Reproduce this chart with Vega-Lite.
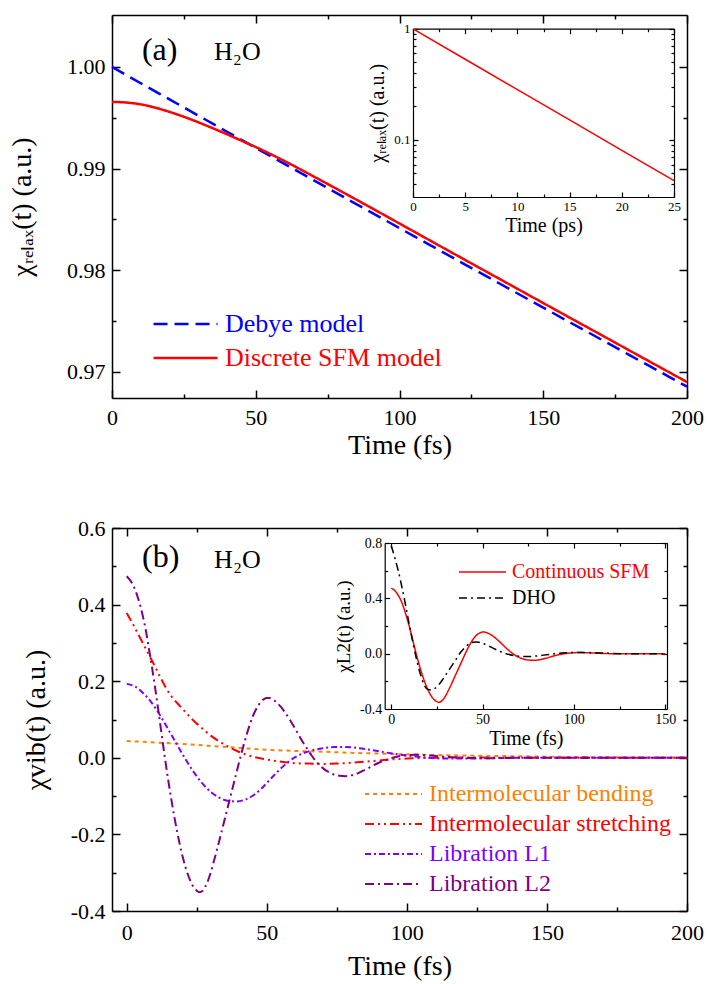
{
  "$schema": "https://vega.github.io/schema/vega-lite/v6.json",
  "background": "white",
  "padding": {"left": 8, "top": 14, "right": 2, "bottom": 2},
  "spacing": 58,
  "config": {
    "font": "Liberation Serif",
    "view": {"stroke": null},
    "axis": {"labelFont": "Liberation Serif", "titleFont": "Liberation Serif", "titleFontWeight": "normal", "domainColor": "#000", "tickColor": "#000", "labelColor": "#000", "titleColor": "#000", "grid": false, "labelOverlap": false, "labelFlush": false, "domainWidth": 1.5, "tickWidth": 1.5},
    "legend": {"labelFont": "Liberation Serif", "padding": 0, "labelLimit": 500},
    "text": {"font": "Liberation Serif", "color": "#000"}
  },
  "datasets": {
    "relax": [
      {"t": 0, "v": 1.0, "model": "Debye model"},
      {"t": 10, "v": 0.9984, "model": "Debye model"},
      {"t": 20, "v": 0.99681, "model": "Debye model"},
      {"t": 30, "v": 0.99522, "model": "Debye model"},
      {"t": 40, "v": 0.99363, "model": "Debye model"},
      {"t": 50, "v": 0.99204, "model": "Debye model"},
      {"t": 60, "v": 0.99046, "model": "Debye model"},
      {"t": 70, "v": 0.98888, "model": "Debye model"},
      {"t": 80, "v": 0.9873, "model": "Debye model"},
      {"t": 90, "v": 0.98572, "model": "Debye model"},
      {"t": 100, "v": 0.98415, "model": "Debye model"},
      {"t": 110, "v": 0.98258, "model": "Debye model"},
      {"t": 120, "v": 0.98101, "model": "Debye model"},
      {"t": 130, "v": 0.97945, "model": "Debye model"},
      {"t": 140, "v": 0.97789, "model": "Debye model"},
      {"t": 150, "v": 0.97633, "model": "Debye model"},
      {"t": 160, "v": 0.97477, "model": "Debye model"},
      {"t": 170, "v": 0.97322, "model": "Debye model"},
      {"t": 180, "v": 0.97166, "model": "Debye model"},
      {"t": 190, "v": 0.97011, "model": "Debye model"},
      {"t": 200, "v": 0.96856, "model": "Debye model"},
      {"t": 0, "v": 0.99656, "model": "Discrete SFM model"},
      {"t": 5, "v": 0.9965, "model": "Discrete SFM model"},
      {"t": 10, "v": 0.99632, "model": "Discrete SFM model"},
      {"t": 15, "v": 0.996, "model": "Discrete SFM model"},
      {"t": 20, "v": 0.99558, "model": "Discrete SFM model"},
      {"t": 25, "v": 0.9951, "model": "Discrete SFM model"},
      {"t": 30, "v": 0.99456, "model": "Discrete SFM model"},
      {"t": 35, "v": 0.99398, "model": "Discrete SFM model"},
      {"t": 40, "v": 0.99338, "model": "Discrete SFM model"},
      {"t": 45, "v": 0.99275, "model": "Discrete SFM model"},
      {"t": 50, "v": 0.99212, "model": "Discrete SFM model"},
      {"t": 60, "v": 0.99075, "model": "Discrete SFM model"},
      {"t": 70, "v": 0.98925, "model": "Discrete SFM model"},
      {"t": 80, "v": 0.98772, "model": "Discrete SFM model"},
      {"t": 90, "v": 0.98617, "model": "Discrete SFM model"},
      {"t": 100, "v": 0.9846, "model": "Discrete SFM model"},
      {"t": 110, "v": 0.98303, "model": "Discrete SFM model"},
      {"t": 120, "v": 0.98146, "model": "Discrete SFM model"},
      {"t": 130, "v": 0.9799, "model": "Discrete SFM model"},
      {"t": 140, "v": 0.97834, "model": "Discrete SFM model"},
      {"t": 150, "v": 0.97678, "model": "Discrete SFM model"},
      {"t": 160, "v": 0.97522, "model": "Discrete SFM model"},
      {"t": 170, "v": 0.97367, "model": "Discrete SFM model"},
      {"t": 180, "v": 0.97211, "model": "Discrete SFM model"},
      {"t": 190, "v": 0.97056, "model": "Discrete SFM model"},
      {"t": 200, "v": 0.96901, "model": "Discrete SFM model"}
    ],
    "relaxps": [
      {"t": 0, "v": 0.9966},
      {"t": 5, "v": 0.5316},
      {"t": 10, "v": 0.2836},
      {"t": 15, "v": 0.1513},
      {"t": 20, "v": 0.0807},
      {"t": 25, "v": 0.043}
    ],
    "vib": [
      {"t": 0, "v": 0.044, "mode": "Intermolecular bending"},
      {"t": 10, "v": 0.04, "mode": "Intermolecular bending"},
      {"t": 20, "v": 0.036, "mode": "Intermolecular bending"},
      {"t": 30, "v": 0.031, "mode": "Intermolecular bending"},
      {"t": 40, "v": 0.026, "mode": "Intermolecular bending"},
      {"t": 50, "v": 0.021, "mode": "Intermolecular bending"},
      {"t": 60, "v": 0.018, "mode": "Intermolecular bending"},
      {"t": 70, "v": 0.016, "mode": "Intermolecular bending"},
      {"t": 80, "v": 0.013, "mode": "Intermolecular bending"},
      {"t": 90, "v": 0.011, "mode": "Intermolecular bending"},
      {"t": 100, "v": 0.009, "mode": "Intermolecular bending"},
      {"t": 120, "v": 0.006, "mode": "Intermolecular bending"},
      {"t": 140, "v": 0.004, "mode": "Intermolecular bending"},
      {"t": 160, "v": 0.002, "mode": "Intermolecular bending"},
      {"t": 180, "v": 0.001, "mode": "Intermolecular bending"},
      {"t": 200, "v": 0.0005, "mode": "Intermolecular bending"},
      {"t": 0, "v": 0.378, "mode": "Intermolecular stretching"},
      {"t": 2, "v": 0.352, "mode": "Intermolecular stretching"},
      {"t": 4, "v": 0.324, "mode": "Intermolecular stretching"},
      {"t": 6, "v": 0.296, "mode": "Intermolecular stretching"},
      {"t": 8, "v": 0.268, "mode": "Intermolecular stretching"},
      {"t": 10, "v": 0.24, "mode": "Intermolecular stretching"},
      {"t": 12, "v": 0.21, "mode": "Intermolecular stretching"},
      {"t": 14, "v": 0.183, "mode": "Intermolecular stretching"},
      {"t": 16, "v": 0.16, "mode": "Intermolecular stretching"},
      {"t": 18, "v": 0.143, "mode": "Intermolecular stretching"},
      {"t": 20, "v": 0.127, "mode": "Intermolecular stretching"},
      {"t": 22, "v": 0.111, "mode": "Intermolecular stretching"},
      {"t": 24, "v": 0.096, "mode": "Intermolecular stretching"},
      {"t": 26, "v": 0.083, "mode": "Intermolecular stretching"},
      {"t": 28, "v": 0.07, "mode": "Intermolecular stretching"},
      {"t": 30, "v": 0.058, "mode": "Intermolecular stretching"},
      {"t": 33, "v": 0.043, "mode": "Intermolecular stretching"},
      {"t": 36, "v": 0.03, "mode": "Intermolecular stretching"},
      {"t": 39, "v": 0.019, "mode": "Intermolecular stretching"},
      {"t": 42, "v": 0.01, "mode": "Intermolecular stretching"},
      {"t": 45, "v": 0.003, "mode": "Intermolecular stretching"},
      {"t": 48, "v": -0.002, "mode": "Intermolecular stretching"},
      {"t": 52, "v": -0.007, "mode": "Intermolecular stretching"},
      {"t": 56, "v": -0.011, "mode": "Intermolecular stretching"},
      {"t": 60, "v": -0.014, "mode": "Intermolecular stretching"},
      {"t": 65, "v": -0.015, "mode": "Intermolecular stretching"},
      {"t": 70, "v": -0.016, "mode": "Intermolecular stretching"},
      {"t": 75, "v": -0.015, "mode": "Intermolecular stretching"},
      {"t": 80, "v": -0.013, "mode": "Intermolecular stretching"},
      {"t": 85, "v": -0.01, "mode": "Intermolecular stretching"},
      {"t": 90, "v": -0.007, "mode": "Intermolecular stretching"},
      {"t": 95, "v": -0.004, "mode": "Intermolecular stretching"},
      {"t": 100, "v": -0.002, "mode": "Intermolecular stretching"},
      {"t": 110, "v": 0.0, "mode": "Intermolecular stretching"},
      {"t": 120, "v": 0.001, "mode": "Intermolecular stretching"},
      {"t": 140, "v": 0.0, "mode": "Intermolecular stretching"},
      {"t": 200, "v": 0.0, "mode": "Intermolecular stretching"},
      {"t": 0, "v": 0.193, "mode": "Libration L1"},
      {"t": 3, "v": 0.186, "mode": "Libration L1"},
      {"t": 6, "v": 0.168, "mode": "Libration L1"},
      {"t": 9, "v": 0.143, "mode": "Libration L1"},
      {"t": 12, "v": 0.11, "mode": "Libration L1"},
      {"t": 15, "v": 0.072, "mode": "Libration L1"},
      {"t": 18, "v": 0.034, "mode": "Libration L1"},
      {"t": 21, "v": -0.004, "mode": "Libration L1"},
      {"t": 24, "v": -0.038, "mode": "Libration L1"},
      {"t": 27, "v": -0.067, "mode": "Libration L1"},
      {"t": 30, "v": -0.089, "mode": "Libration L1"},
      {"t": 33, "v": -0.104, "mode": "Libration L1"},
      {"t": 36, "v": -0.112, "mode": "Libration L1"},
      {"t": 39, "v": -0.114, "mode": "Libration L1"},
      {"t": 42, "v": -0.11, "mode": "Libration L1"},
      {"t": 45, "v": -0.099, "mode": "Libration L1"},
      {"t": 48, "v": -0.081, "mode": "Libration L1"},
      {"t": 51, "v": -0.058, "mode": "Libration L1"},
      {"t": 54, "v": -0.035, "mode": "Libration L1"},
      {"t": 57, "v": -0.015, "mode": "Libration L1"},
      {"t": 60, "v": 0.001, "mode": "Libration L1"},
      {"t": 63, "v": 0.012, "mode": "Libration L1"},
      {"t": 66, "v": 0.019, "mode": "Libration L1"},
      {"t": 70, "v": 0.025, "mode": "Libration L1"},
      {"t": 74, "v": 0.028, "mode": "Libration L1"},
      {"t": 78, "v": 0.028, "mode": "Libration L1"},
      {"t": 82, "v": 0.026, "mode": "Libration L1"},
      {"t": 86, "v": 0.022, "mode": "Libration L1"},
      {"t": 90, "v": 0.017, "mode": "Libration L1"},
      {"t": 95, "v": 0.011, "mode": "Libration L1"},
      {"t": 100, "v": 0.006, "mode": "Libration L1"},
      {"t": 105, "v": 0.002, "mode": "Libration L1"},
      {"t": 110, "v": -0.001, "mode": "Libration L1"},
      {"t": 115, "v": -0.002, "mode": "Libration L1"},
      {"t": 120, "v": -0.002, "mode": "Libration L1"},
      {"t": 130, "v": -0.001, "mode": "Libration L1"},
      {"t": 140, "v": 0.0, "mode": "Libration L1"},
      {"t": 200, "v": 0.0, "mode": "Libration L1"},
      {"t": 0, "v": 0.474, "mode": "Libration L2"},
      {"t": 2, "v": 0.455, "mode": "Libration L2"},
      {"t": 4, "v": 0.418, "mode": "Libration L2"},
      {"t": 5, "v": 0.393, "mode": "Libration L2"},
      {"t": 6, "v": 0.362, "mode": "Libration L2"},
      {"t": 7, "v": 0.326, "mode": "Libration L2"},
      {"t": 8, "v": 0.282, "mode": "Libration L2"},
      {"t": 9, "v": 0.238, "mode": "Libration L2"},
      {"t": 10, "v": 0.19, "mode": "Libration L2"},
      {"t": 11, "v": 0.139, "mode": "Libration L2"},
      {"t": 12, "v": 0.086, "mode": "Libration L2"},
      {"t": 13, "v": 0.033, "mode": "Libration L2"},
      {"t": 14, "v": -0.018, "mode": "Libration L2"},
      {"t": 15, "v": -0.067, "mode": "Libration L2"},
      {"t": 16, "v": -0.112, "mode": "Libration L2"},
      {"t": 17, "v": -0.154, "mode": "Libration L2"},
      {"t": 18, "v": -0.193, "mode": "Libration L2"},
      {"t": 19, "v": -0.228, "mode": "Libration L2"},
      {"t": 20, "v": -0.259, "mode": "Libration L2"},
      {"t": 21, "v": -0.286, "mode": "Libration L2"},
      {"t": 22, "v": -0.308, "mode": "Libration L2"},
      {"t": 23, "v": -0.326, "mode": "Libration L2"},
      {"t": 24, "v": -0.339, "mode": "Libration L2"},
      {"t": 25, "v": -0.347, "mode": "Libration L2"},
      {"t": 26, "v": -0.351, "mode": "Libration L2"},
      {"t": 27, "v": -0.348, "mode": "Libration L2"},
      {"t": 28, "v": -0.337, "mode": "Libration L2"},
      {"t": 29, "v": -0.321, "mode": "Libration L2"},
      {"t": 30, "v": -0.299, "mode": "Libration L2"},
      {"t": 31, "v": -0.273, "mode": "Libration L2"},
      {"t": 32, "v": -0.246, "mode": "Libration L2"},
      {"t": 33, "v": -0.218, "mode": "Libration L2"},
      {"t": 34, "v": -0.189, "mode": "Libration L2"},
      {"t": 35, "v": -0.16, "mode": "Libration L2"},
      {"t": 36, "v": -0.131, "mode": "Libration L2"},
      {"t": 37, "v": -0.102, "mode": "Libration L2"},
      {"t": 38, "v": -0.073, "mode": "Libration L2"},
      {"t": 39, "v": -0.044, "mode": "Libration L2"},
      {"t": 40, "v": -0.015, "mode": "Libration L2"},
      {"t": 41, "v": 0.013, "mode": "Libration L2"},
      {"t": 42, "v": 0.04, "mode": "Libration L2"},
      {"t": 43, "v": 0.065, "mode": "Libration L2"},
      {"t": 44, "v": 0.088, "mode": "Libration L2"},
      {"t": 45, "v": 0.108, "mode": "Libration L2"},
      {"t": 46, "v": 0.124, "mode": "Libration L2"},
      {"t": 47, "v": 0.137, "mode": "Libration L2"},
      {"t": 48, "v": 0.147, "mode": "Libration L2"},
      {"t": 49, "v": 0.153, "mode": "Libration L2"},
      {"t": 50, "v": 0.156, "mode": "Libration L2"},
      {"t": 51, "v": 0.156, "mode": "Libration L2"},
      {"t": 52, "v": 0.153, "mode": "Libration L2"},
      {"t": 54, "v": 0.141, "mode": "Libration L2"},
      {"t": 56, "v": 0.124, "mode": "Libration L2"},
      {"t": 58, "v": 0.102, "mode": "Libration L2"},
      {"t": 60, "v": 0.078, "mode": "Libration L2"},
      {"t": 62, "v": 0.052, "mode": "Libration L2"},
      {"t": 64, "v": 0.028, "mode": "Libration L2"},
      {"t": 66, "v": 0.006, "mode": "Libration L2"},
      {"t": 68, "v": -0.013, "mode": "Libration L2"},
      {"t": 70, "v": -0.027, "mode": "Libration L2"},
      {"t": 72, "v": -0.037, "mode": "Libration L2"},
      {"t": 74, "v": -0.044, "mode": "Libration L2"},
      {"t": 76, "v": -0.047, "mode": "Libration L2"},
      {"t": 78, "v": -0.048, "mode": "Libration L2"},
      {"t": 80, "v": -0.046, "mode": "Libration L2"},
      {"t": 82, "v": -0.042, "mode": "Libration L2"},
      {"t": 84, "v": -0.035, "mode": "Libration L2"},
      {"t": 86, "v": -0.028, "mode": "Libration L2"},
      {"t": 88, "v": -0.02, "mode": "Libration L2"},
      {"t": 90, "v": -0.013, "mode": "Libration L2"},
      {"t": 92, "v": -0.007, "mode": "Libration L2"},
      {"t": 94, "v": -0.002, "mode": "Libration L2"},
      {"t": 96, "v": 0.002, "mode": "Libration L2"},
      {"t": 98, "v": 0.005, "mode": "Libration L2"},
      {"t": 100, "v": 0.007, "mode": "Libration L2"},
      {"t": 103, "v": 0.008, "mode": "Libration L2"},
      {"t": 106, "v": 0.007, "mode": "Libration L2"},
      {"t": 110, "v": 0.005, "mode": "Libration L2"},
      {"t": 115, "v": 0.002, "mode": "Libration L2"},
      {"t": 120, "v": 0.0, "mode": "Libration L2"},
      {"t": 130, "v": -0.001, "mode": "Libration L2"},
      {"t": 140, "v": 0.0, "mode": "Libration L2"},
      {"t": 200, "v": 0.0, "mode": "Libration L2"}
    ],
    "l2": [
      {"t": 0, "v": 0.474, "model": "Continuous SFM"},
      {"t": 2, "v": 0.455, "model": "Continuous SFM"},
      {"t": 4, "v": 0.418, "model": "Continuous SFM"},
      {"t": 5, "v": 0.393, "model": "Continuous SFM"},
      {"t": 6, "v": 0.362, "model": "Continuous SFM"},
      {"t": 7, "v": 0.326, "model": "Continuous SFM"},
      {"t": 8, "v": 0.282, "model": "Continuous SFM"},
      {"t": 9, "v": 0.238, "model": "Continuous SFM"},
      {"t": 10, "v": 0.19, "model": "Continuous SFM"},
      {"t": 11, "v": 0.139, "model": "Continuous SFM"},
      {"t": 12, "v": 0.086, "model": "Continuous SFM"},
      {"t": 13, "v": 0.033, "model": "Continuous SFM"},
      {"t": 14, "v": -0.018, "model": "Continuous SFM"},
      {"t": 15, "v": -0.067, "model": "Continuous SFM"},
      {"t": 16, "v": -0.112, "model": "Continuous SFM"},
      {"t": 17, "v": -0.154, "model": "Continuous SFM"},
      {"t": 18, "v": -0.193, "model": "Continuous SFM"},
      {"t": 19, "v": -0.228, "model": "Continuous SFM"},
      {"t": 20, "v": -0.259, "model": "Continuous SFM"},
      {"t": 21, "v": -0.286, "model": "Continuous SFM"},
      {"t": 22, "v": -0.308, "model": "Continuous SFM"},
      {"t": 23, "v": -0.326, "model": "Continuous SFM"},
      {"t": 24, "v": -0.339, "model": "Continuous SFM"},
      {"t": 25, "v": -0.347, "model": "Continuous SFM"},
      {"t": 26, "v": -0.351, "model": "Continuous SFM"},
      {"t": 27, "v": -0.348, "model": "Continuous SFM"},
      {"t": 28, "v": -0.337, "model": "Continuous SFM"},
      {"t": 29, "v": -0.321, "model": "Continuous SFM"},
      {"t": 30, "v": -0.299, "model": "Continuous SFM"},
      {"t": 31, "v": -0.273, "model": "Continuous SFM"},
      {"t": 32, "v": -0.246, "model": "Continuous SFM"},
      {"t": 33, "v": -0.218, "model": "Continuous SFM"},
      {"t": 34, "v": -0.189, "model": "Continuous SFM"},
      {"t": 35, "v": -0.16, "model": "Continuous SFM"},
      {"t": 36, "v": -0.131, "model": "Continuous SFM"},
      {"t": 37, "v": -0.102, "model": "Continuous SFM"},
      {"t": 38, "v": -0.073, "model": "Continuous SFM"},
      {"t": 39, "v": -0.044, "model": "Continuous SFM"},
      {"t": 40, "v": -0.015, "model": "Continuous SFM"},
      {"t": 41, "v": 0.013, "model": "Continuous SFM"},
      {"t": 42, "v": 0.04, "model": "Continuous SFM"},
      {"t": 43, "v": 0.065, "model": "Continuous SFM"},
      {"t": 44, "v": 0.088, "model": "Continuous SFM"},
      {"t": 45, "v": 0.108, "model": "Continuous SFM"},
      {"t": 46, "v": 0.124, "model": "Continuous SFM"},
      {"t": 47, "v": 0.137, "model": "Continuous SFM"},
      {"t": 48, "v": 0.147, "model": "Continuous SFM"},
      {"t": 49, "v": 0.153, "model": "Continuous SFM"},
      {"t": 50, "v": 0.156, "model": "Continuous SFM"},
      {"t": 51, "v": 0.156, "model": "Continuous SFM"},
      {"t": 52, "v": 0.153, "model": "Continuous SFM"},
      {"t": 54, "v": 0.141, "model": "Continuous SFM"},
      {"t": 56, "v": 0.124, "model": "Continuous SFM"},
      {"t": 58, "v": 0.102, "model": "Continuous SFM"},
      {"t": 60, "v": 0.078, "model": "Continuous SFM"},
      {"t": 62, "v": 0.052, "model": "Continuous SFM"},
      {"t": 64, "v": 0.028, "model": "Continuous SFM"},
      {"t": 66, "v": 0.006, "model": "Continuous SFM"},
      {"t": 68, "v": -0.013, "model": "Continuous SFM"},
      {"t": 70, "v": -0.027, "model": "Continuous SFM"},
      {"t": 72, "v": -0.037, "model": "Continuous SFM"},
      {"t": 74, "v": -0.044, "model": "Continuous SFM"},
      {"t": 76, "v": -0.047, "model": "Continuous SFM"},
      {"t": 78, "v": -0.048, "model": "Continuous SFM"},
      {"t": 80, "v": -0.046, "model": "Continuous SFM"},
      {"t": 82, "v": -0.042, "model": "Continuous SFM"},
      {"t": 84, "v": -0.035, "model": "Continuous SFM"},
      {"t": 86, "v": -0.028, "model": "Continuous SFM"},
      {"t": 88, "v": -0.02, "model": "Continuous SFM"},
      {"t": 90, "v": -0.013, "model": "Continuous SFM"},
      {"t": 92, "v": -0.007, "model": "Continuous SFM"},
      {"t": 94, "v": -0.002, "model": "Continuous SFM"},
      {"t": 96, "v": 0.002, "model": "Continuous SFM"},
      {"t": 98, "v": 0.005, "model": "Continuous SFM"},
      {"t": 100, "v": 0.007, "model": "Continuous SFM"},
      {"t": 103, "v": 0.008, "model": "Continuous SFM"},
      {"t": 106, "v": 0.007, "model": "Continuous SFM"},
      {"t": 110, "v": 0.005, "model": "Continuous SFM"},
      {"t": 115, "v": 0.002, "model": "Continuous SFM"},
      {"t": 120, "v": 0.0, "model": "Continuous SFM"},
      {"t": 130, "v": -0.001, "model": "Continuous SFM"},
      {"t": 140, "v": 0.0, "model": "Continuous SFM"},
      {"t": 150, "v": 0.0, "model": "Continuous SFM"},
      {"t": 0, "v": 0.78, "model": "DHO"},
      {"t": 2, "v": 0.69, "model": "DHO"},
      {"t": 4, "v": 0.59, "model": "DHO"},
      {"t": 6, "v": 0.47, "model": "DHO"},
      {"t": 8, "v": 0.34, "model": "DHO"},
      {"t": 10, "v": 0.2, "model": "DHO"},
      {"t": 12, "v": 0.07, "model": "DHO"},
      {"t": 14, "v": -0.05, "model": "DHO"},
      {"t": 16, "v": -0.15, "model": "DHO"},
      {"t": 18, "v": -0.225, "model": "DHO"},
      {"t": 20, "v": -0.258, "model": "DHO"},
      {"t": 22, "v": -0.262, "model": "DHO"},
      {"t": 24, "v": -0.25, "model": "DHO"},
      {"t": 26, "v": -0.225, "model": "DHO"},
      {"t": 28, "v": -0.19, "model": "DHO"},
      {"t": 30, "v": -0.15, "model": "DHO"},
      {"t": 32, "v": -0.11, "model": "DHO"},
      {"t": 34, "v": -0.07, "model": "DHO"},
      {"t": 36, "v": -0.03, "model": "DHO"},
      {"t": 38, "v": 0.01, "model": "DHO"},
      {"t": 40, "v": 0.04, "model": "DHO"},
      {"t": 42, "v": 0.065, "model": "DHO"},
      {"t": 44, "v": 0.08, "model": "DHO"},
      {"t": 46, "v": 0.085, "model": "DHO"},
      {"t": 48, "v": 0.082, "model": "DHO"},
      {"t": 50, "v": 0.074, "model": "DHO"},
      {"t": 53, "v": 0.058, "model": "DHO"},
      {"t": 56, "v": 0.038, "model": "DHO"},
      {"t": 60, "v": 0.014, "model": "DHO"},
      {"t": 64, "v": -0.004, "model": "DHO"},
      {"t": 68, "v": -0.015, "model": "DHO"},
      {"t": 72, "v": -0.02, "model": "DHO"},
      {"t": 76, "v": -0.02, "model": "DHO"},
      {"t": 80, "v": -0.016, "model": "DHO"},
      {"t": 85, "v": -0.008, "model": "DHO"},
      {"t": 90, "v": 0.0, "model": "DHO"},
      {"t": 95, "v": 0.006, "model": "DHO"},
      {"t": 100, "v": 0.009, "model": "DHO"},
      {"t": 105, "v": 0.009, "model": "DHO"},
      {"t": 110, "v": 0.007, "model": "DHO"},
      {"t": 120, "v": 0.002, "model": "DHO"},
      {"t": 130, "v": -0.001, "model": "DHO"},
      {"t": 140, "v": 0.0, "model": "DHO"},
      {"t": 150, "v": 0.0, "model": "DHO"}
    ]
  },
  "vconcat": [
    {
      "width": 575,
      "height": 383,
      "resolve": {"scale": {"x": "independent", "y": "independent", "color": "independent", "strokeDash": "independent"}, "axis": {"x": "independent", "y": "independent"}, "legend": {"color": "independent", "strokeDash": "independent"}},
      "layer": [
        {
          "data": {"name": "relax"},
          "mark": {"type": "line", "strokeWidth": 2.5, "interpolate": "monotone"},
          "encoding": {
            "x": {"field": "t", "type": "quantitative", "scale": {"domain": [0, 200], "nice": false, "zero": false},
              "axis": {"orient": "bottom", "values": [0, 25, 50, 75, 100, 125, 150, 175, 200], "labelExpr": "datum.value % 50 === 0 ? datum.label : ''", "tickSize": {"condition": {"test": "datum.value % 50 === 0", "value": -8}, "value": -4}, "labelPadding": 17, "labelFont": "Liberation Serif", "labelFontSize": 22, "title": "Time (fs)", "titleFont": "Liberation Serif", "titleFontSize": 28, "titlePadding": -1}},
            "y": {"field": "v", "type": "quantitative", "scale": {"domain": [0.96744, 1.00511], "nice": false, "zero": false},
              "axis": {"orient": "left", "values": [0.97, 0.975, 0.98, 0.985, 0.99, 0.995, 1.0], "labelExpr": "abs(datum.value*100 - round(datum.value*100)) < 1e-6 ? format(datum.value, '.2f') : ''", "tickSize": {"condition": {"test": "abs(datum.value*100 - round(datum.value*100)) < 1e-6", "value": -8}, "value": -4}, "labelPadding": 15, "labelFont": "Liberation Serif", "labelFontSize": 22, "title": "χᵣₑₗₐₓ(t) (a.u.)", "titleFont": "Liberation Serif", "titleFontSize": 28, "titlePadding": 30}},
            "color": {"field": "model", "type": "nominal", "scale": {"domain": ["Debye model", "Discrete SFM model"], "range": ["#0000ff", "#ff0000"]},
              "legend": {"orient": "none", "legendX": 40, "legendY": 296, "title": null, "symbolType": "stroke", "symbolSize": 4096, "symbolStrokeWidth": 2.5, "labelFont": "Liberation Serif", "labelFontSize": 26, "labelLimit": 500, "clipHeight": 26, "rowPadding": 8, "labelOffset": 6, "padding": 0, "encode": {"labels": {"update": {"fill": {"signal": "datum.value === 'Debye model' ? '#0000ff' : '#ff0000'"}}}}}},
            "strokeDash": {"field": "model", "type": "nominal", "scale": {"domain": ["Debye model", "Discrete SFM model"], "range": [[14, 7], [1, 0]]},
              "legend": {"orient": "none", "legendX": 40, "legendY": 296, "title": null, "symbolType": "stroke", "symbolSize": 4096, "symbolStrokeWidth": 2.5, "labelFont": "Liberation Serif", "labelFontSize": 26, "labelLimit": 500, "clipHeight": 26, "rowPadding": 8, "labelOffset": 6, "padding": 0, "encode": {"labels": {"update": {"fill": {"signal": "datum.value === 'Debye model' ? '#0000ff' : '#ff0000'"}}}}}}
          }
        },
        {
          "data": {"name": "relax"},
          "mark": {"type": "point", "opacity": 0},
          "encoding": {
            "x": {"field": "t", "type": "quantitative", "scale": {"domain": [0, 200], "nice": false, "zero": false},
              "axis": {"orient": "top", "values": [0, 25, 50, 75, 100, 125, 150, 175, 200], "labels": false, "title": null, "tickSize": {"condition": {"test": "datum.value % 50 === 0", "value": -8}, "value": -4}}},
            "y": {"field": "v", "type": "quantitative", "scale": {"domain": [0.96744, 1.00511], "nice": false, "zero": false},
              "axis": {"orient": "right", "values": [0.97, 0.975, 0.98, 0.985, 0.99, 0.995, 1.0], "labels": false, "title": null, "tickSize": {"condition": {"test": "abs(datum.value*100 - round(datum.value*100)) < 1e-6", "value": -8}, "value": -4}}}
          }
        },
        {
          "data": {"values": [{}]},
          "mark": {"type": "text", "align": "left", "baseline": "alphabetic", "fontSize": 32, "font": "Liberation Serif"},
          "encoding": {
            "x": {"datum": 10.4, "type": "quantitative", "scale": {"domain": [0, 200], "nice": false, "zero": false}, "axis": null},
            "y": {"datum": 1.0007, "type": "quantitative", "scale": {"domain": [0.96744, 1.00511], "nice": false, "zero": false}, "axis": null},
            "text": {"value": "(a)"}
          }
        },
        {
          "data": {"values": [{}]},
          "mark": {"type": "text", "align": "left", "baseline": "alphabetic", "fontSize": 26, "font": "Liberation Serif"},
          "encoding": {
            "x": {"datum": 35.5, "type": "quantitative", "scale": {"domain": [0, 200], "nice": false, "zero": false}, "axis": null},
            "y": {"datum": 1.0007, "type": "quantitative", "scale": {"domain": [0.96744, 1.00511], "nice": false, "zero": false}, "axis": null},
            "text": {"value": "H₂O"}
          }
        },
        {
          "data": {"name": "relaxps"},
          "mark": {"type": "line", "color": "#ff0000", "strokeWidth": 1.5},
          "encoding": {
            "x": {"field": "t", "type": "quantitative", "scale": {"domain": [0, 25], "nice": false, "zero": false, "range": [301, 562]},
              "axis": {"orient": "bottom", "offset": -201, "values": [0, 2.5, 5, 7.5, 10, 12.5, 15, 17.5, 20, 22.5, 25], "labelExpr": "datum.value % 5 === 0 ? datum.label : ''", "tickSize": {"condition": {"test": "datum.value % 5 === 0", "value": -5}, "value": -3}, "labelPadding": 8, "labelFont": "Liberation Serif", "labelFontSize": 13, "title": "Time (ps)", "titleFont": "Liberation Serif", "titleFontSize": 20, "titlePadding": 0, "domainWidth": 1.2, "tickWidth": 1.2}},
            "y": {"field": "v", "type": "quantitative", "scale": {"type": "log", "domain": [0.0307, 1], "nice": false, "range": [182, 13.7]},
              "axis": {"orient": "left", "offset": -301, "values": [0.04, 0.05, 0.06, 0.07, 0.08, 0.09, 0.1, 0.2, 0.3, 0.4, 0.5, 0.6, 0.7, 0.8, 0.9, 1], "labelExpr": "datum.value === 1 ? '1' : (abs(datum.value - 0.1) < 1e-9 ? '0.1' : '')", "tickSize": {"condition": {"test": "datum.value === 1 || abs(datum.value - 0.1) < 1e-9", "value": -5}, "value": -3}, "labelPadding": 8, "labelFont": "Liberation Serif", "labelFontSize": 13, "title": "χᵣₑₗₐₓ(t) (a.u.)", "titleFont": "Liberation Serif", "titleFontSize": 20, "titlePadding": 6, "domainWidth": 1.2, "tickWidth": 1.2}}
          }
        },
        {
          "data": {"name": "relaxps"},
          "mark": {"type": "point", "opacity": 0},
          "encoding": {
            "x": {"field": "t", "type": "quantitative", "scale": {"domain": [0, 25], "nice": false, "zero": false, "range": [301, 562]},
              "axis": {"orient": "top", "offset": -13.7, "values": [0, 2.5, 5, 7.5, 10, 12.5, 15, 17.5, 20, 22.5, 25], "labels": false, "title": null, "tickSize": {"condition": {"test": "datum.value % 5 === 0", "value": -5}, "value": -3}, "domainWidth": 1.2, "tickWidth": 1.2}},
            "y": {"field": "v", "type": "quantitative", "scale": {"type": "log", "domain": [0.0307, 1], "nice": false, "range": [182, 13.7]},
              "axis": {"orient": "right", "offset": -13, "values": [0.04, 0.05, 0.06, 0.07, 0.08, 0.09, 0.1, 0.2, 0.3, 0.4, 0.5, 0.6, 0.7, 0.8, 0.9, 1], "labels": false, "title": null, "tickSize": {"condition": {"test": "datum.value === 1 || abs(datum.value - 0.1) < 1e-9", "value": -5}, "value": -3}, "domainWidth": 1.2, "tickWidth": 1.2}}
          }
        }
      ]
    },
    {
      "width": 575,
      "height": 383,
      "resolve": {"scale": {"x": "independent", "y": "independent", "color": "independent", "strokeDash": "independent"}, "axis": {"x": "independent", "y": "independent"}, "legend": {"color": "independent", "strokeDash": "independent"}},
      "layer": [
        {
          "data": {"name": "vib"},
          "mark": {"type": "line", "strokeWidth": 2, "interpolate": "monotone"},
          "encoding": {
            "x": {"field": "t", "type": "quantitative", "scale": {"domain": [-5.25, 200], "nice": false, "zero": false},
              "axis": {"orient": "bottom", "values": [0, 25, 50, 75, 100, 125, 150, 175, 200], "labelExpr": "datum.value % 50 === 0 ? datum.label : ''", "tickSize": {"condition": {"test": "datum.value % 50 === 0", "value": -8}, "value": -4}, "labelPadding": 19, "labelFont": "Liberation Serif", "labelFontSize": 22, "title": "Time (fs)", "titleFont": "Liberation Serif", "titleFontSize": 28, "titlePadding": 5}},
            "y": {"field": "v", "type": "quantitative", "scale": {"domain": [-0.4, 0.6], "nice": false, "zero": false},
              "axis": {"orient": "left", "values": [-0.4, -0.3, -0.2, -0.1, 0, 0.1, 0.2, 0.3, 0.4, 0.5, 0.6], "labelExpr": "abs(datum.value*5 - round(datum.value*5)) < 1e-6 ? (datum.value < -1e-9 ? '-' : '') + format(abs(datum.value), '.1f') : ''", "tickSize": {"condition": {"test": "abs(datum.value*5 - round(datum.value*5)) < 1e-6", "value": -8}, "value": -4}, "labelPadding": 15, "labelFont": "Liberation Serif", "labelFontSize": 22, "title": "χvib(t) (a.u.)", "titleFont": "Liberation Serif", "titleFontSize": 28, "titlePadding": 20}},
            "color": {"field": "mode", "type": "nominal", "scale": {"domain": ["Intermolecular bending", "Intermolecular stretching", "Libration L1", "Libration L2"], "range": ["#ff8000", "#ff0000", "#8000ff", "#800080"]},
              "legend": {"orient": "none", "legendX": 252, "legendY": 254, "title": null, "symbolType": "stroke", "symbolSize": 3249, "symbolStrokeWidth": 2, "labelFont": "Liberation Serif", "labelFontSize": 24, "labelLimit": 500, "clipHeight": 24, "rowPadding": 6, "labelOffset": 6, "padding": 0, "encode": {"labels": {"update": {"fill": {"signal": "datum.value === 'Intermolecular bending' ? '#ff8000' : datum.value === 'Intermolecular stretching' ? '#ff0000' : datum.value === 'Libration L1' ? '#8000ff' : '#800080'"}}}}}},
            "strokeDash": {"field": "mode", "type": "nominal", "scale": {"domain": ["Intermolecular bending", "Intermolecular stretching", "Libration L1", "Libration L2"], "range": [[4, 4], [9, 4, 2, 4, 2, 4], [6, 3, 2, 3], [9, 4, 2, 4]]},
              "legend": {"orient": "none", "legendX": 252, "legendY": 254, "title": null, "symbolType": "stroke", "symbolSize": 3249, "symbolStrokeWidth": 2, "labelFont": "Liberation Serif", "labelFontSize": 24, "labelLimit": 500, "clipHeight": 24, "rowPadding": 6, "labelOffset": 6, "padding": 0, "encode": {"labels": {"update": {"fill": {"signal": "datum.value === 'Intermolecular bending' ? '#ff8000' : datum.value === 'Intermolecular stretching' ? '#ff0000' : datum.value === 'Libration L1' ? '#8000ff' : '#800080'"}}}}}}
          }
        },
        {
          "data": {"name": "vib"},
          "mark": {"type": "point", "opacity": 0},
          "encoding": {
            "x": {"field": "t", "type": "quantitative", "scale": {"domain": [-5.25, 200], "nice": false, "zero": false},
              "axis": {"orient": "top", "values": [0, 25, 50, 75, 100, 125, 150, 175, 200], "labels": false, "title": null, "tickSize": {"condition": {"test": "datum.value % 50 === 0", "value": -8}, "value": -4}}},
            "y": {"field": "v", "type": "quantitative", "scale": {"domain": [-0.4, 0.6], "nice": false, "zero": false},
              "axis": {"orient": "right", "values": [-0.4, -0.3, -0.2, -0.1, 0, 0.1, 0.2, 0.3, 0.4, 0.5, 0.6], "labels": false, "title": null, "tickSize": {"condition": {"test": "abs(datum.value*5 - round(datum.value*5)) < 1e-6", "value": -8}, "value": -4}}}
          }
        },
        {
          "data": {"values": [{}]},
          "mark": {"type": "text", "align": "left", "baseline": "alphabetic", "fontSize": 32, "font": "Liberation Serif"},
          "encoding": {
            "x": {"datum": 5.5, "type": "quantitative", "scale": {"domain": [-5.25, 200], "nice": false, "zero": false}, "axis": null},
            "y": {"datum": 0.499, "type": "quantitative", "scale": {"domain": [-0.4, 0.6], "nice": false, "zero": false}, "axis": null},
            "text": {"value": "(b)"}
          }
        },
        {
          "data": {"values": [{}]},
          "mark": {"type": "text", "align": "left", "baseline": "alphabetic", "fontSize": 26, "font": "Liberation Serif"},
          "encoding": {
            "x": {"datum": 31.2, "type": "quantitative", "scale": {"domain": [-5.25, 200], "nice": false, "zero": false}, "axis": null},
            "y": {"datum": 0.495, "type": "quantitative", "scale": {"domain": [-0.4, 0.6], "nice": false, "zero": false}, "axis": null},
            "text": {"value": "H₂O"}
          }
        },
        {
          "data": {"name": "l2"},
          "mark": {"type": "line", "strokeWidth": 1.5, "interpolate": "monotone"},
          "encoding": {
            "x": {"field": "t", "type": "quantitative", "scale": {"domain": [-3.6, 151], "nice": false, "zero": false, "range": [272.7, 555]},
              "axis": {"orient": "bottom", "offset": -202, "values": [0, 25, 50, 75, 100, 125, 150], "labelExpr": "datum.value % 50 === 0 ? datum.label : ''", "tickSize": {"condition": {"test": "datum.value % 50 === 0", "value": -5}, "value": -3}, "labelPadding": 8, "labelFont": "Liberation Serif", "labelFontSize": 14, "title": "Time (fs)", "titleFont": "Liberation Serif", "titleFontSize": 20, "titlePadding": 0, "domainWidth": 1.2, "tickWidth": 1.2}},
            "y": {"field": "v", "type": "quantitative", "scale": {"domain": [-0.4, 0.8], "nice": false, "zero": false, "range": [181, 15]},
              "axis": {"orient": "left", "offset": -272.7, "values": [-0.4, -0.2, 0, 0.2, 0.4, 0.6, 0.8], "labelExpr": "abs(datum.value*2.5 - round(datum.value*2.5)) < 1e-6 ? (datum.value < -1e-9 ? '-' : '') + format(abs(datum.value), '.1f') : ''", "tickSize": {"condition": {"test": "abs(datum.value*2.5 - round(datum.value*2.5)) < 1e-6", "value": -5}, "value": -3}, "labelPadding": 8, "labelFont": "Liberation Serif", "labelFontSize": 14, "title": "χL2(t) (a.u.)", "titleFont": "Liberation Serif", "titleFontSize": 19, "titlePadding": 6, "domainWidth": 1.2, "tickWidth": 1.2}},
            "color": {"field": "model", "type": "nominal", "scale": {"domain": ["Continuous SFM", "DHO"], "range": ["#ff0000", "#000000"]},
              "legend": {"orient": "none", "legendX": 346, "legendY": 34, "title": null, "symbolType": "stroke", "symbolSize": 2209, "symbolStrokeWidth": 1.5, "labelFont": "Liberation Serif", "labelFontSize": 20, "labelLimit": 500, "clipHeight": 20, "rowPadding": 6, "labelOffset": 5, "padding": 0, "encode": {"labels": {"update": {"fill": {"signal": "datum.value === 'DHO' ? '#000000' : '#ff0000'"}}}}}},
            "strokeDash": {"field": "model", "type": "nominal", "scale": {"domain": ["Continuous SFM", "DHO"], "range": [[1, 0], [8, 4, 2, 4]]},
              "legend": {"orient": "none", "legendX": 346, "legendY": 34, "title": null, "symbolType": "stroke", "symbolSize": 2209, "symbolStrokeWidth": 1.5, "labelFont": "Liberation Serif", "labelFontSize": 20, "labelLimit": 500, "clipHeight": 20, "rowPadding": 6, "labelOffset": 5, "padding": 0, "encode": {"labels": {"update": {"fill": {"signal": "datum.value === 'DHO' ? '#000000' : '#ff0000'"}}}}}}
          }
        },
        {
          "data": {"name": "l2"},
          "mark": {"type": "point", "opacity": 0},
          "encoding": {
            "x": {"field": "t", "type": "quantitative", "scale": {"domain": [-3.6, 151], "nice": false, "zero": false, "range": [272.7, 555]},
              "axis": {"orient": "top", "offset": -15, "values": [0, 25, 50, 75, 100, 125, 150], "labels": false, "title": null, "tickSize": {"condition": {"test": "datum.value % 50 === 0", "value": -5}, "value": -3}, "domainWidth": 1.2, "tickWidth": 1.2}},
            "y": {"field": "v", "type": "quantitative", "scale": {"domain": [-0.4, 0.8], "nice": false, "zero": false, "range": [181, 15]},
              "axis": {"orient": "right", "offset": -20, "values": [-0.4, -0.2, 0, 0.2, 0.4, 0.6, 0.8], "labels": false, "title": null, "tickSize": {"condition": {"test": "abs(datum.value*2.5 - round(datum.value*2.5)) < 1e-6", "value": -5}, "value": -3}, "domainWidth": 1.2, "tickWidth": 1.2}}
          }
        }
      ]
    }
  ]
}
